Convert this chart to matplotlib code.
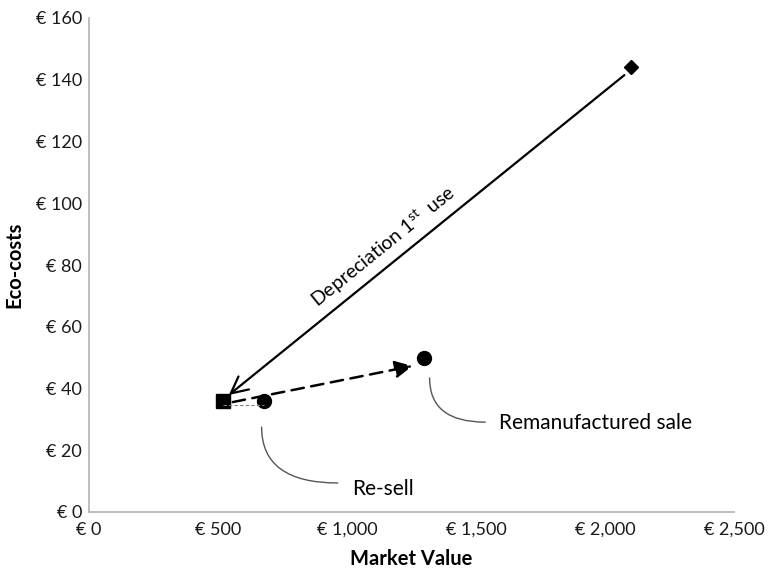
import matplotlib
matplotlib.use("Agg")
import matplotlib.pyplot as plt
from matplotlib.patches import FancyArrowPatch

plt.rcParams['font.family'] = ['Lato', 'DejaVu Sans']
plt.rcParams['mathtext.fontset'] = 'custom'
plt.rcParams['mathtext.rm'] = 'Lato'

# Data
stages = ["New product", "End of 1st use", "Re-sell", "Remanufactured sale"]
market_value = [2100, 520, 680, 1300]
eco_costs = [144, 36, 36, 50]
x_ticks = [0, 500, 1000, 1500, 2000, 2500]
x_tick_labels = ["€ 0", "€ 500", "€ 1,000", "€ 1,500", "€ 2,000", "€ 2,500"]
y_ticks = [0, 20, 40, 60, 80, 100, 120, 140, 160]
y_tick_labels = ["€ 0", "€ 20", "€ 40", "€ 60", "€ 80", "€ 100", "€ 120", "€ 140", "€ 160"]

fig = plt.figure(figsize=(7.68, 5.74), dpi=100)
ax = fig.add_axes([89/768, 1-512/574, (734-89)/768, (512-18)/574])
ax.set_xlim(0, 2500)
ax.set_ylim(0, 160)

for s in ['top', 'right']:
    ax.spines[s].set_visible(False)
for s in ['left', 'bottom']:
    ax.spines[s].set_color('#b3b3b3')
    ax.spines[s].set_linewidth(1.2)
ax.set_xticks(x_ticks)
ax.set_xticklabels(x_tick_labels)
ax.set_yticks(y_ticks)
ax.set_yticklabels(y_tick_labels)
ax.tick_params(length=0, labelsize=13, colors='#1a1a1a', pad=5)
ax.tick_params(axis='x', pad=7)
ax.set_xlabel("Market Value", fontsize=14.5, fontweight='bold', labelpad=8)
ax.set_ylabel("Eco-costs", fontsize=14.5, fontweight='bold', labelpad=8)

# Markers
ax.plot(market_value[0], eco_costs[0], marker='D', color='black', markersize=7, linestyle='none')
ax.plot(market_value[1], eco_costs[1], marker='s', color='black', markersize=9.5, linestyle='none')
ax.plot(market_value[2:], eco_costs[2:], marker='o', color='black', markersize=10, linestyle='none')

# Depreciation arrow (new -> end of 1st use)
a1 = FancyArrowPatch((market_value[0] - 25, eco_costs[0] - 2.5), (market_value[1] + 22, eco_costs[1] + 1.9),
                     arrowstyle='->,head_length=8,head_width=4', color='black', lw=1.6,
                     shrinkA=0, shrinkB=0, mutation_scale=1.5)
ax.add_patch(a1)

# Remanufacturing dashed arrow
a2 = FancyArrowPatch((market_value[1] + 37, eco_costs[1] - 0.4), (market_value[3] - 46, eco_costs[3] - 2.7),
                     arrowstyle='-|>,head_length=7,head_width=3.5', color='black', lw=1.8,
                     linestyle=(0, (5, 3)), shrinkA=0, shrinkB=0, mutation_scale=1.5)
ax.add_patch(a2)

# Thin dashed re-sell line
ax.plot([market_value[1], market_value[2]], [eco_costs[2] - 1.2, eco_costs[2] - 1.2],
        color='#7f7f7f', lw=0.8, linestyle=(0, (3, 2)))

# Depreciation text
ax.text(1140, 86, r"Depreciation 1$^{\mathrm{st}}$  use", rotation=39, fontsize=14,
        ha='center', va='center', rotation_mode='anchor')

# Callout curves
c1 = FancyArrowPatch((669, 27.5), (964, 9.4), arrowstyle='-', color='#555555', lw=1.0,
                     connectionstyle='angle3,angleA=90,angleB=0', shrinkA=0, shrinkB=0)
ax.add_patch(c1)
ax.text(1018, 7.3, "Re-sell", fontsize=15, ha='left', va='center')

c2 = FancyArrowPatch((1320, 43.4), (1536, 29.1), arrowstyle='-', color='#555555', lw=1.0,
                     connectionstyle='angle3,angleA=90,angleB=0', shrinkA=0, shrinkB=0)
ax.add_patch(c2)
ax.text(1590, 28.9, "Remanufactured sale", fontsize=15, ha='left', va='center')

fig.savefig("out.png", dpi=100)
